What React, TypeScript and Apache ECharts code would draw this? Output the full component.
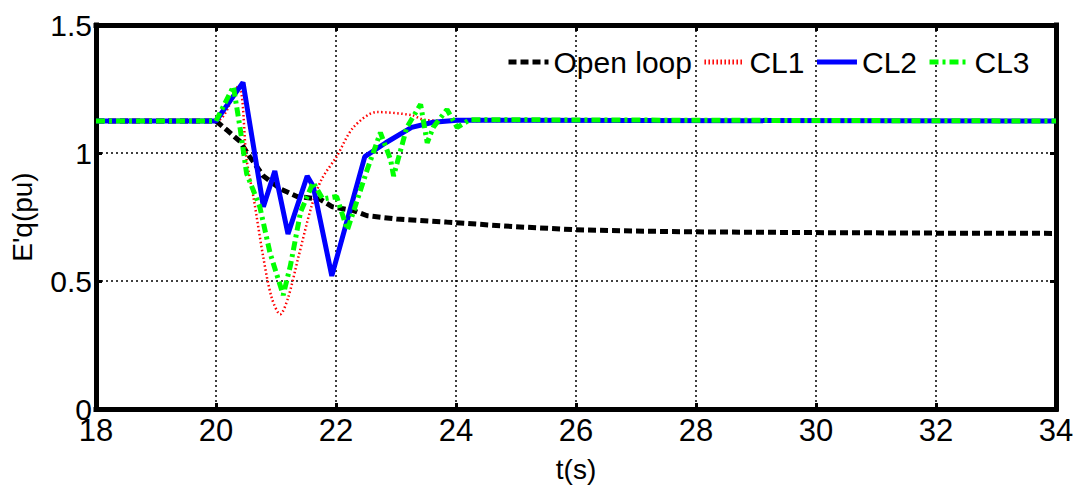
import React, { useEffect, useRef } from "react";
import * as echarts from "echarts";

const xTicks = [18, 20, 22, 24, 26, 28, 30, 32, 34];
const yTicks = [0, 0.5, 1, 1.5];

const openLoopT = [18, 20, 20.18, 20.4, 20.56, 20.79, 21.07, 21.35, 21.73, 21.94, 22.29, 22.52, 23.01, 23.84, 25, 26, 27, 28, 30, 32, 34];
const openLoopV = [1.125, 1.125, 1.09, 1.045, 0.986, 0.91, 0.86, 0.83, 0.82, 0.79, 0.775, 0.755, 0.742, 0.73, 0.712, 0.7, 0.695, 0.692, 0.689, 0.687, 0.686];

const cl1T = [18, 20, 20.37, 20.51, 20.63, 20.79, 20.93, 21.07, 21.2, 21.37, 21.59, 21.76, 22.01, 22.29, 22.68, 23.26, 23.46, 24.07, 34];
const cl1V = [1.125, 1.125, 1.26, 0.974, 0.82, 0.59, 0.433, 0.37, 0.433, 0.59, 0.79, 0.897, 0.986, 1.1, 1.16, 1.148, 1.13, 1.125, 1.125];

const cl2T = [18, 20, 20.45, 20.79, 20.98, 21.2, 21.52, 21.62, 21.93, 22.48, 22.83, 23.26, 23.62, 24.02, 34];
const cl2V = [1.125, 1.125, 1.276, 0.79, 0.93, 0.684, 0.91, 0.87, 0.52, 0.986, 1.04, 1.1, 1.12, 1.128, 1.125];

const cl3T = [18, 20, 20.29, 20.4, 20.51, 20.73, 20.9, 21.12, 21.24, 21.41, 21.62, 21.78, 22.01, 22.19, 22.29, 22.52, 22.74, 22.91, 22.96, 23.18, 23.41, 23.52, 23.62, 23.85, 24.02, 24.23, 34];
const cl3V = [1.125, 1.125, 1.26, 1.1, 0.92, 0.79, 0.61, 0.445, 0.56, 0.77, 0.885, 0.82, 0.83, 0.7, 0.77, 0.935, 1.08, 0.974, 0.91, 1.1, 1.19, 1.04, 1.1, 1.17, 1.1, 1.13, 1.125];

const zip = (t: number[], v: number[]) => t.map((x, i) => [x, v[i]]);

export default function App() {
  const ref = useRef<HTMLDivElement>(null);
  useEffect(() => {
    if (!ref.current) return;
    const chart = echarts.init(ref.current, undefined, { renderer: "svg" });
    const font = "Liberation Sans, Arial, sans-serif";
    const tick = { show: true, inside: true, length: 6, lineStyle: { color: "#000", width: 3 } };
    const grid = { show: true, lineStyle: { color: "#000", type: [2, 3], width: 1.5 } };
    const border = { show: true, onZero: false, lineStyle: { color: "#000", width: 5, cap: "square" } };
    chart.setOption({
      animation: false,
      textStyle: { fontFamily: font },
      grid: { left: 96, right: 23, top: 25, bottom: 77 },
      legend: {
        left: 501,
        top: 42,
        itemWidth: 40,
        itemHeight: 14,
        itemGap: 10,
        itemStyle: { color: "transparent", borderWidth: 0, opacity: 0 },
        lineStyle: { width: 5 },
        textStyle: { fontSize: 30, color: "#000", fontFamily: font },
        data: ["Open loop", "CL1", "CL2", "CL3"],
      },
      xAxis: [
        {
          type: "value",
          min: xTicks[0],
          max: xTicks[xTicks.length - 1],
          interval: 2,
          position: "bottom",
          name: "t(s)",
          nameLocation: "middle",
          nameGap: 46,
          nameTextStyle: { fontSize: 28, color: "#000", fontFamily: font },
          axisLine: border,
          axisTick: tick,
          axisLabel: { fontSize: 31, color: "#000", margin: 6, fontFamily: font },
          splitLine: grid,
        },
        {
          type: "value",
          min: xTicks[0],
          max: xTicks[xTicks.length - 1],
          interval: 2,
          position: "top",
          axisLine: border,
          axisTick: tick,
          axisLabel: { show: false },
          splitLine: { show: false },
        },
      ],
      yAxis: [
        {
          type: "value",
          min: yTicks[0],
          max: yTicks[yTicks.length - 1],
          interval: 0.5,
          position: "left",
          name: "E'q(pu)",
          nameLocation: "middle",
          nameGap: 60,
          nameTextStyle: { fontSize: 28, color: "#000", fontFamily: font },
          axisLine: border,
          axisTick: tick,
          axisLabel: { fontSize: 30, color: "#000", margin: 4, fontFamily: font },
          splitLine: grid,
        },
        {
          type: "value",
          min: yTicks[0],
          max: yTicks[yTicks.length - 1],
          interval: 0.5,
          position: "right",
          axisLine: border,
          axisTick: tick,
          axisLabel: { show: false },
          splitLine: { show: false },
        },
      ],
      series: [
        {
          name: "Open loop",
          type: "line",
          symbol: "none",
          data: zip(openLoopT, openLoopV),
          lineStyle: { color: "#000", width: 5, type: [8, 4] },
          itemStyle: { color: "#000" },
          z: 2,
        },
        {
          name: "CL1",
          type: "line",
          symbol: "none",
          smooth: 0.3,
          data: zip(cl1T, cl1V),
          lineStyle: { color: "#ff0000", width: 2.5, type: [1.5, 2.5] },
          itemStyle: { color: "#ff0000" },
          z: 3,
        },
        {
          name: "CL2",
          type: "line",
          symbol: "none",
          data: zip(cl2T, cl2V),
          lineStyle: { color: "#0000ff", width: 5 },
          itemStyle: { color: "#0000ff" },
          z: 4,
        },
        {
          name: "CL3",
          type: "line",
          symbol: "none",
          data: zip(cl3T, cl3V),
          lineStyle: { color: "#00ff00", width: 5, type: [9, 4, 3, 4] },
          itemStyle: { color: "#00ff00" },
          z: 5,
        },
      ],
    });
    return () => chart.dispose();
  }, []);
  return (
    <div
      ref={ref}
      style={{ position: "fixed", left: 0, top: 0, width: 1079, height: 488, background: "#fff" }}
    />
  );
}
